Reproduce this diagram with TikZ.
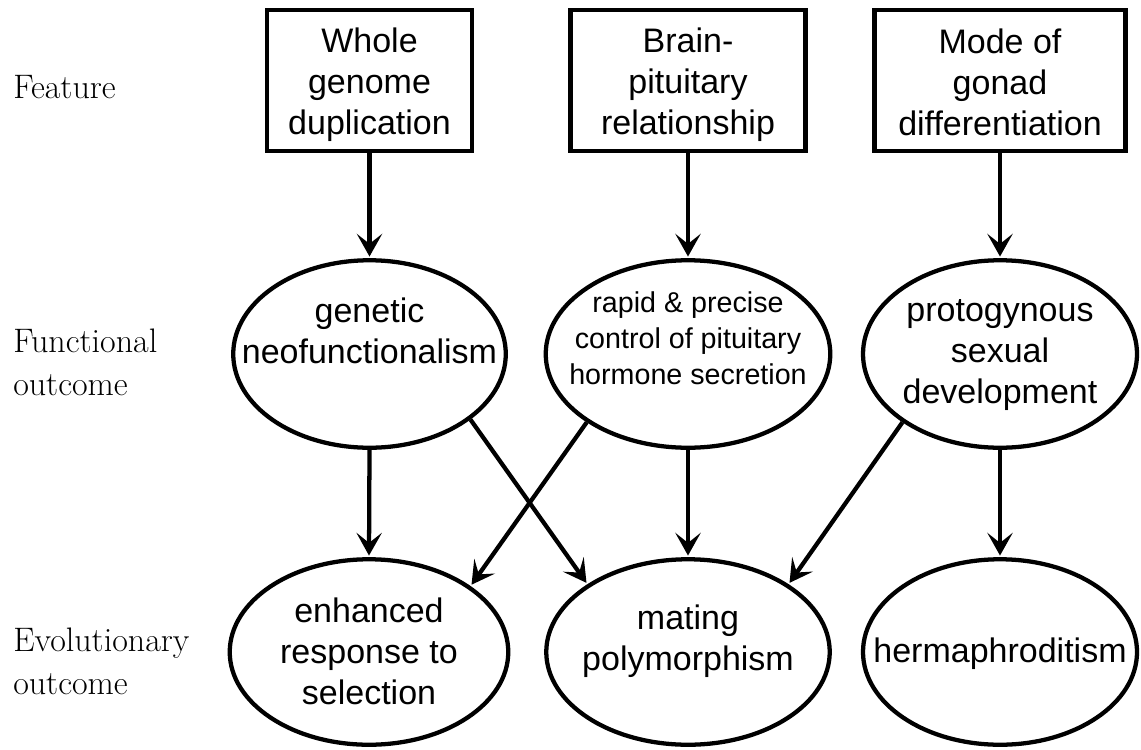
\documentclass[tikz,border=0pt]{standalone}
\usepackage{fontspec}
\newfontfamily\arialf{Liberation Sans}
\usetikzlibrary{arrows.meta,shapes.geometric}
\begin{document}
\begin{tikzpicture}[x=0.75pt,y=-0.75pt,
  box/.style={draw, line width=3.4pt, rectangle, minimum height=105.4pt, inner sep=0pt},
  ell/.style={draw, line width=3.2pt, ellipse, inner sep=0pt, minimum height=140.6pt},
  txt/.style={align=center, inner sep=0pt, font=\arialf\fontsize{25.5pt}{30.75pt}\selectfont},
  small/.style={align=center, inner sep=0pt, font=\arialf\fontsize{21.5pt}{27pt}\selectfont},
  lbl/.style={align=left, anchor=west, inner sep=0pt, font=\fontsize{25.5pt}{32.25pt}\selectfont},
  arr/.style={line width=3.2pt, shorten >=1.2pt, -{Stealth[length=17pt,width=19pt,inset=7.5pt]}},
]
\useasboundingbox (0,0) rectangle (1141,749);

% feature boxes
\node[box, minimum width=154pt] (b1) at (369.5,80.5) {};
\node[box, minimum width=176.6pt] (b2) at (688,80.5) {};
\node[box, minimum width=187.9pt] (b3) at (1000,80.5) {};
\node[txt] (b1t) at (369.5,85) {Whole\\genome\\duplication};
\node[txt] (b2t) at (688,85) {Brain-\\pituitary\\relationship};
\node[txt] (b3t) at (1000,82) {Mode of\\gonad\\differentiation};

% functional outcomes
\node[ell, minimum width=204.4pt] (f1) at (369.5,354) {};
\node[ell, minimum width=213.4pt] (f2) at (688,354) {};
\node[ell, minimum width=205.5pt] (f3) at (1000,354) {};
\node[txt] (f1t) at (369.5,331) {genetic\\neofunctionalism};
\node[small] (f2t) at (688,338.5) {rapid \& precise\\control of pituitary\\hormone secretion};
\node[txt] (f3t) at (1000,355) {protogynous\\sexual\\development};

% evolutionary outcomes
\node[ell, minimum width=208.9pt, minimum height=139.1pt] (e1) at (369,652) {};
\node[ell, minimum width=212.6pt, minimum height=139.1pt] (e2) at (688,652) {};
\node[ell, minimum width=205.5pt, minimum height=139.1pt] (e3) at (1000,652) {};
\node[txt] (e1t) at (369,651.5) {enhanced\\response to\\selection};
\node[txt] (e2t) at (688,641.5) {mating\\polymorphism};
\node[txt] (e3t) at (1000,654) {hermaphroditism};

% row labels
\node[lbl] (l1) at (13,87.5) {Feature};
\node[lbl] (l2) at (13,362) {Functional\\outcome};
\node[lbl] (l3) at (13,661) {Evolutionary\\outcome};

% connectors
\draw[arr] (b1.south) -- (f1.north);
\draw[arr] (b2.south) -- (f2.north);
\draw[arr] (b3.south) -- (f3.north);
\draw[arr] (f1.south) -- (e1.north);
\draw[arr] (f2.south) -- (e2.north);
\draw[arr] (f3.south) -- (e3.north);
\draw[arr] (f1.-33.3) -- (e2.146.4);
\draw[arr] (f2.-146.4) -- (e1.33.6);
\draw[arr] (f3.-145.7) -- (e2.34.1);
\end{tikzpicture}
\end{document}
